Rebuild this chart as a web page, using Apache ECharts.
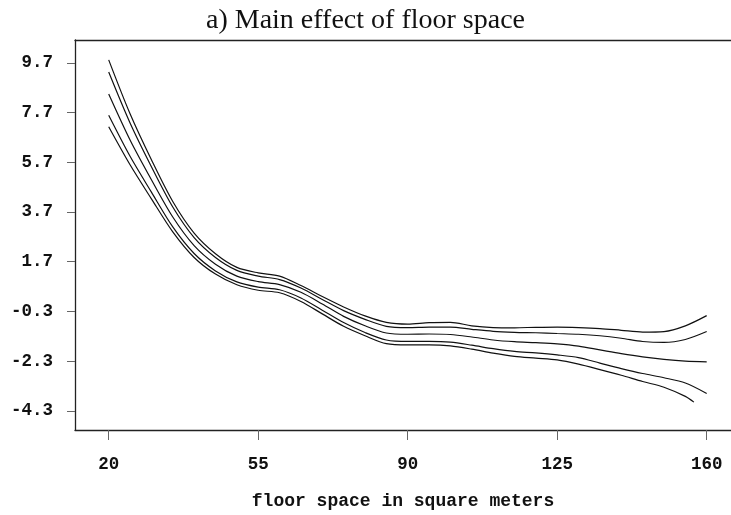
<!DOCTYPE html>
<html>
<head>
<meta charset="utf-8">
<script src="https://cdn.jsdelivr.net/npm/echarts@6/dist/echarts.min.js"></script>
<style>
  html, body { margin: 0; padding: 0; background: #fff; }
  #chart { width: 731px; height: 515px; }
</style>
</head>
<body>
<div id="chart"></div>
<script>
// Floor space grid (square meters)
const floorSpace = [20, 25, 30, 35, 40, 45, 50, 55, 60, 65, 70, 75, 80, 85, 90,
  95, 100, 105, 110, 115, 120, 125, 130, 135, 140, 145, 150, 155, 160];
// The lowest band stops a little before the end of the range
const lower95Space = [20, 25, 30, 35, 40, 45, 50, 55, 60, 65, 70, 75, 80, 85, 90,
  95, 100, 105, 110, 115, 120, 125, 130, 135, 140, 145, 150, 155, 157];

// Estimated main effect and pointwise bands
const upper95 = [9.82, 7.65, 5.80, 4.12, 2.85, 2.02, 1.47, 1.25, 1.12, 0.74, 0.30, -0.12, -0.48, -0.74, -0.81,
  -0.75, -0.74, -0.88, -0.95, -0.96, -0.94, -0.93, -0.95, -0.99, -1.06, -1.13, -1.11, -0.88, -0.47];
const upper80 = [9.33, 7.28, 5.52, 3.90, 2.67, 1.87, 1.35, 1.12, 0.98, 0.64, 0.18, -0.27, -0.62, -0.90, -0.95,
  -0.93, -0.93, -1.02, -1.10, -1.14, -1.16, -1.19, -1.22, -1.28, -1.38, -1.51, -1.55, -1.43, -1.11];
const estimate = [8.45, 6.60, 5.00, 3.50, 2.35, 1.60, 1.12, 0.90, 0.78, 0.47, 0.00, -0.50, -0.88, -1.17, -1.22,
  -1.21, -1.23, -1.33, -1.45, -1.52, -1.56, -1.61, -1.70, -1.85, -2.00, -2.13, -2.23, -2.30, -2.33];
const lower80 = [7.59, 5.94, 4.50, 3.10, 2.03, 1.33, 0.89, 0.68, 0.57, 0.24, -0.25, -0.75, -1.15, -1.45, -1.51,
  -1.51, -1.54, -1.66, -1.80, -1.91, -1.97, -2.05, -2.16, -2.38, -2.60, -2.80, -2.97, -3.18, -3.60];
const lower95 = [7.13, 5.60, 4.23, 2.90, 1.87, 1.20, 0.77, 0.55, 0.45, 0.10, -0.40, -0.90, -1.28, -1.60, -1.65,
  -1.65, -1.69, -1.82, -1.98, -2.11, -2.18, -2.25, -2.42, -2.64, -2.87, -3.12, -3.35, -3.72, -3.95];

// Tick labels
const xTicks = [20, 55, 90, 125, 160];
const yTicks = [9.7, 7.7, 5.7, 3.7, 1.7, -0.3, -2.3, -4.3];

const monoFont = '"Liberation Mono", "DejaVu Sans Mono", monospace';
const xRange = { min: 12.11, max: 165.69 };

function pairs(xs, ys) {
  return xs.map((x, i) => [x, ys[i]]);
}

function curve(name, xs, ys) {
  return {
    name: name,
    type: 'line',
    data: pairs(xs, ys),
    showSymbol: false,
    smooth: 0.3,
    lineStyle: { color: '#111', width: 1.2 },
    emphasis: { disabled: true },
    silent: true,
    z: 3
  };
}

const chart = echarts.init(document.getElementById('chart'), null, { renderer: 'canvas' });

chart.setOption({
  animation: false,
  backgroundColor: '#fff',
  title: {
    text: 'a) Main effect of floor space',
    left: 'center',
    top: 7,
    padding: 0,
    textStyle: {
      fontFamily: '"Liberation Serif", "DejaVu Serif", serif',
      fontWeight: 'normal',
      fontSize: 28,
      color: '#111'
    }
  },
  grid: { left: 75, right: 0, top: 40, bottom: 83, containLabel: false },
  xAxis: [
    {
      type: 'value',
      position: 'bottom',
      min: xRange.min,
      max: xRange.max,
      name: 'floor space in square meters',
      nameLocation: 'middle',
      nameGap: 62,
      nameTextStyle: { fontFamily: monoFont, fontWeight: 'bold', fontSize: 18, color: '#111' },
      axisLine: { show: true, onZero: false, lineStyle: { color: '#222', width: 1.3 } },
      axisTick: { show: true, inside: false, length: 10, customValues: xTicks, lineStyle: { color: '#666', width: 1 } },
      axisLabel: {
        customValues: xTicks,
        margin: 26,
        fontFamily: monoFont,
        fontWeight: 'bold',
        fontSize: 17.5,
        color: '#111',
        formatter: v => String(Math.round(v))
      },
      splitLine: { show: false }
    },
    {
      // top edge of the plotting frame
      type: 'value',
      position: 'top',
      min: xRange.min,
      max: xRange.max,
      axisLine: { show: true, onZero: false, lineStyle: { color: '#222', width: 1.3 } },
      axisTick: { show: false },
      axisLabel: { show: false },
      splitLine: { show: false }
    }
  ],
  yAxis: {
    type: 'value',
    min: -5.072,
    max: 10.62,
    axisLine: { show: true, onZero: false, lineStyle: { color: '#222', width: 1.3 } },
    axisTick: { show: true, inside: false, length: 8, customValues: yTicks, lineStyle: { color: '#666', width: 1 } },
    axisLabel: {
      customValues: yTicks,
      margin: 22,
      fontFamily: monoFont,
      fontWeight: 'bold',
      fontSize: 17.5,
      color: '#111',
      formatter: v => Number(v).toFixed(1)
    },
    splitLine: { show: false }
  },
  series: [
    curve('upper 95%', floorSpace, upper95),
    curve('upper 80%', floorSpace, upper80),
    curve('estimate', floorSpace, estimate),
    curve('lower 80%', floorSpace, lower80),
    curve('lower 95%', lower95Space, lower95)
  ]
});
</script>
</body>
</html>
